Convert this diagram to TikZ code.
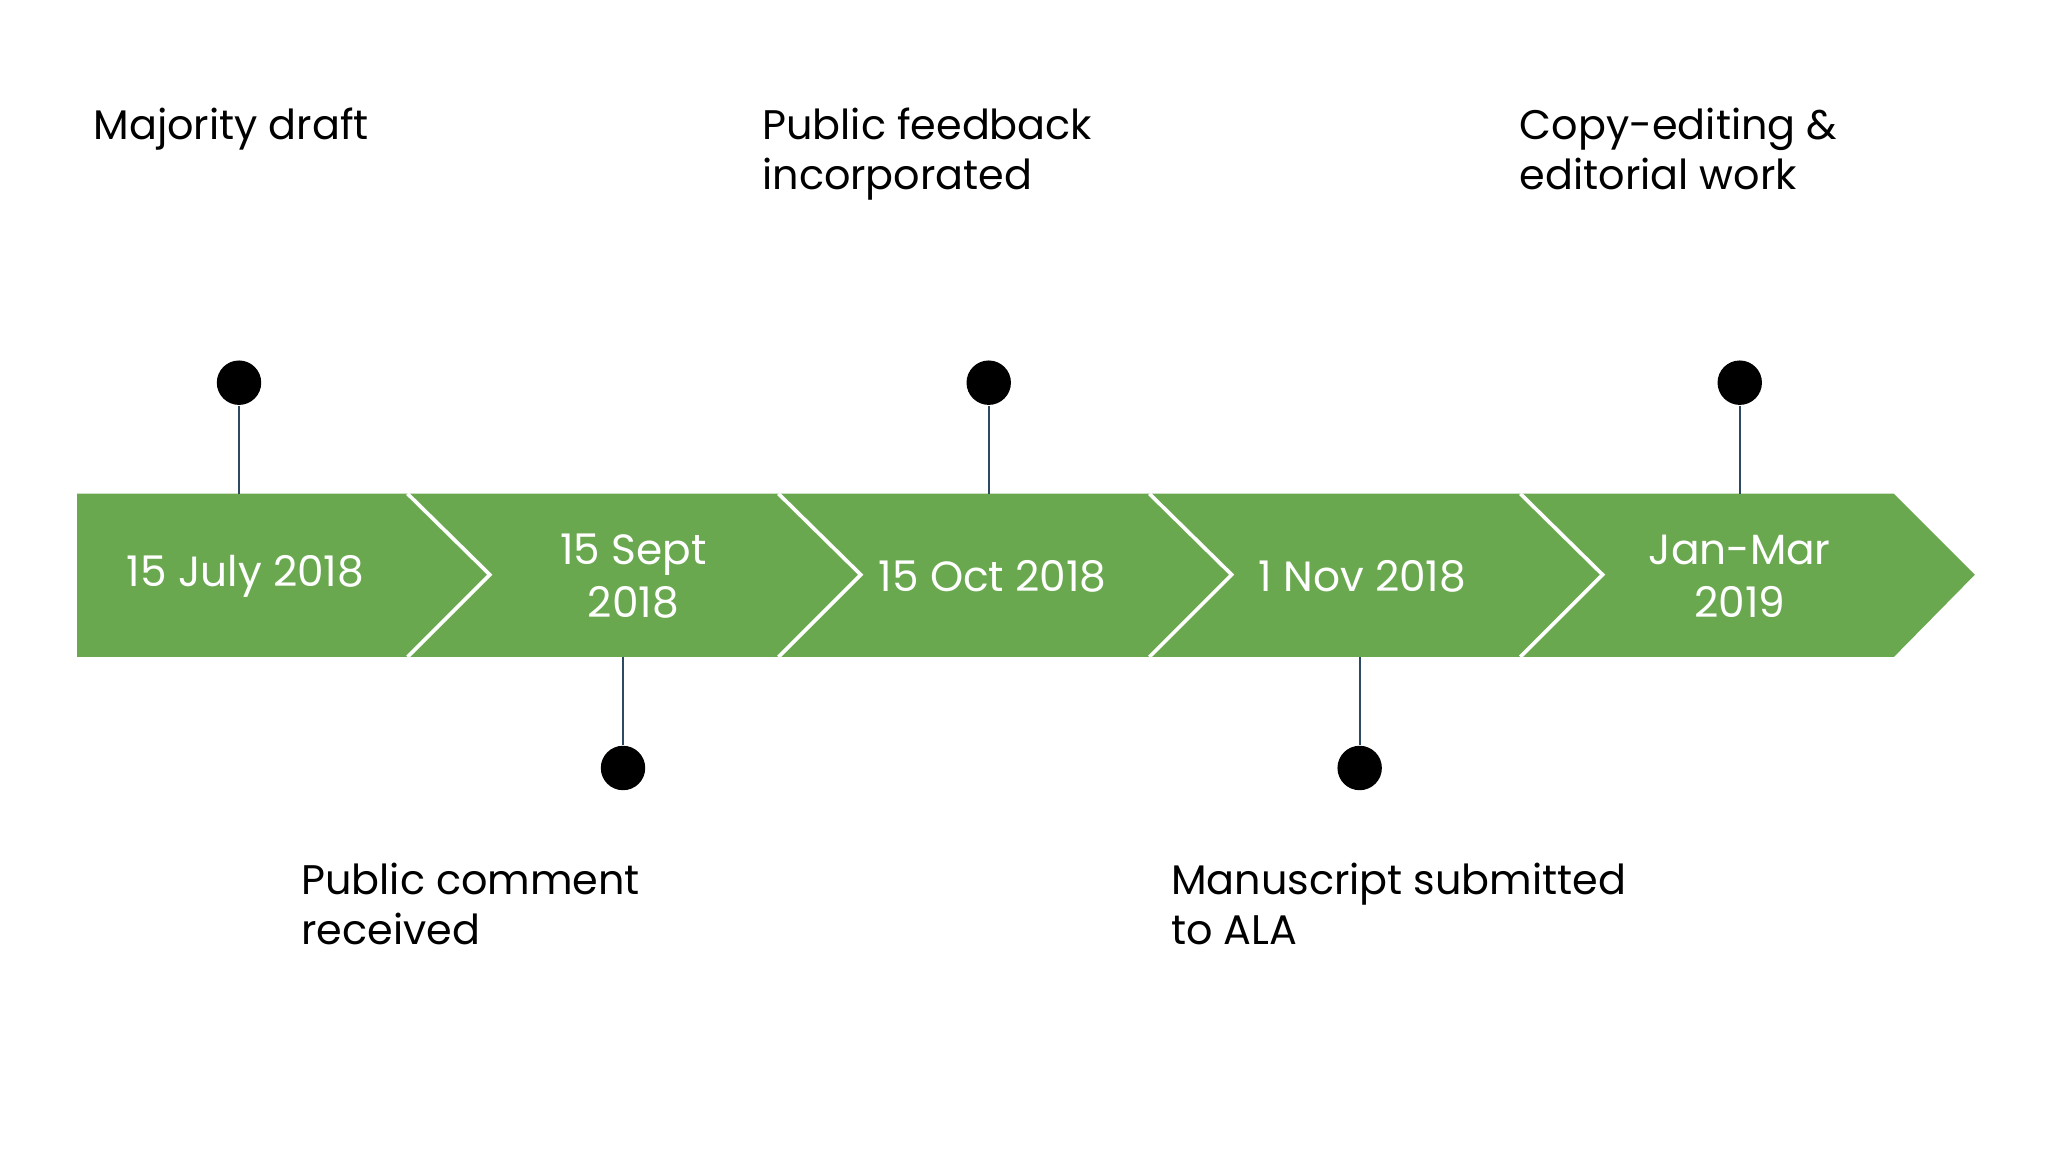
\documentclass[tikz,border=0pt]{standalone}
\usepackage{fontspec}
\setmainfont{Poppins}
\definecolor{band}{HTML}{6AA84F}
\definecolor{pin}{HTML}{2E4A62}
\tikzset{
  datelbl/.style={text=white,font=\fontsize{9.2}{11.6}\selectfont,align=center},
  evlbl/.style={text=black,font=\fontsize{9}{10.8}\selectfont,align=left,anchor=north west,inner sep=0pt},
  dot/.style={circle,fill=black,minimum size=0.34cm,inner sep=0pt},
  stem/.style={draw=pin,line width=0.5pt},
  chev/.style={draw=white,line width=0.8pt}
}
\begin{document}
\begin{tikzpicture}[x=0.01cm,y=-0.01cm]
\useasboundingbox (0,0) rectangle (1568,882);
\fill[band] (59,378) -- (1450,378) -- (1512,440) -- (1450,503) -- (59,503) -- cycle;
\foreach \x in {312,596,880,1164}{
  \draw[chev] (\x,378) -- (\x+63,440) -- (\x,503);
}
\node[datelbl] (d1) at (188,441) {15 July 2018};
\node[datelbl] (d2) at (485,441) {15 Sept\\2018};
\node[datelbl] (d3) at (760,441) {15 Oct 2018};
\node[datelbl] (d4) at (1043,441) {1 Nov 2018};
\node[datelbl] (d5) at (1332,441) {Jan-Mar\\2019};
\coordinate (t1) at (183,378);
\coordinate (t3) at (757,378);
\coordinate (t5) at (1332,378);
\coordinate (b2) at (477,503);
\coordinate (b4) at (1041,503);
\node[dot] (p1) at (183,293) {};
\node[dot] (p3) at (757,293) {};
\node[dot] (p5) at (1332,293) {};
\node[dot] (p2) at (477,588) {};
\node[dot] (p4) at (1041,588) {};
\draw[stem] (p1) -- (t1);
\draw[stem] (p3) -- (t3);
\draw[stem] (p5) -- (t5);
\draw[stem] (p2) -- (b2);
\draw[stem] (p4) -- (b4);
\node[evlbl] (l1) at (71,82) {Majority draft};
\node[evlbl] (l3) at (583,82) {Public feedback\\incorporated};
\node[evlbl] (l5) at (1163,82) {Copy-editing \&\\editorial work};
\node[evlbl] (l2) at (230,660) {Public comment\\received};
\node[evlbl] (l4) at (896,660) {Manuscript submitted\\to ALA};
\end{tikzpicture}
\end{document}
